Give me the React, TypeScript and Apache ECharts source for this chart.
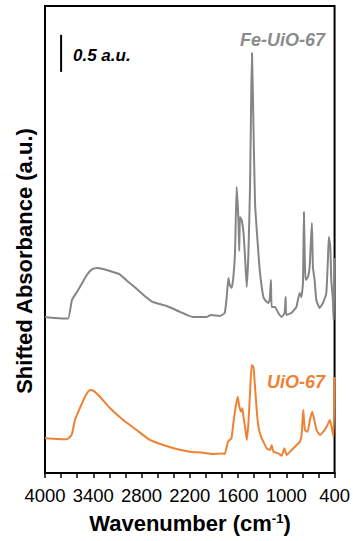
import React, { useEffect, useRef } from "react";
import * as echarts from "echarts";

// Fe-UiO-67 (shifted, gray)
const feWavenumber = [4000, 3876, 3714, 3665, 3603, 3541, 3479, 3417, 3354, 3280, 3193, 3094, 3069, 2982, 2858, 2734, 2659, 2486, 2324, 2163, 1989, 1939, 1828, 1766, 1741, 1720, 1703, 1679, 1658, 1638, 1617, 1595, 1585, 1576, 1555, 1533, 1513, 1492, 1471, 1451, 1437, 1427, 1414, 1389, 1347, 1327, 1285, 1244, 1223, 1207, 1191, 1182, 1141, 1099, 1058, 1021, 1008, 1000, 937, 875, 856, 834, 813, 793, 781, 770, 760, 731, 710, 682, 669, 648, 627, 586, 545, 503, 483, 471, 453, 441, 421, 412, 400];
const feAbsorbance = [2.108, 2.095, 2.088, 2.338, 2.446, 2.561, 2.676, 2.751, 2.77, 2.757, 2.73, 2.695, 2.682, 2.599, 2.486, 2.369, 2.311, 2.257, 2.178, 2.108, 2.108, 2.135, 2.122, 2.162, 2.378, 2.635, 2.541, 2.5, 2.649, 2.973, 3.865, 3.419, 3.0, 3.459, 3.419, 3.257, 2.919, 2.514, 2.973, 3.865, 5.04, 5.676, 5.04, 3.649, 2.973, 2.703, 2.378, 2.311, 2.297, 2.338, 2.608, 2.243, 2.243, 2.162, 2.108, 2.162, 2.378, 2.135, 2.162, 2.243, 2.338, 2.432, 2.378, 2.568, 3.527, 2.88, 2.608, 2.649, 2.784, 3.378, 2.784, 2.608, 2.338, 2.23, 2.297, 2.432, 2.878, 3.189, 3.054, 2.608, 2.338, 2.068, 2.905];

// UiO-67 (orange)
const uioWavenumber = [4000, 3731, 3669, 3628, 3566, 3503, 3441, 3400, 3317, 3193, 3028, 2862, 2697, 2531, 2365, 2200, 2035, 1911, 1803, 1766, 1724, 1682, 1658, 1629, 1604, 1588, 1563, 1546, 1533, 1513, 1492, 1471, 1451, 1430, 1409, 1389, 1368, 1347, 1315, 1285, 1244, 1203, 1182, 1161, 1099, 1058, 1024, 996, 934, 872, 831, 810, 789, 769, 735, 707, 677, 652, 624, 582, 540, 499, 458, 429, 412, 400];
const uioAbsorbance = [0.469, 0.455, 0.514, 0.716, 0.878, 1.031, 1.122, 1.112, 1.031, 0.878, 0.716, 0.581, 0.446, 0.378, 0.324, 0.288, 0.274, 0.257, 0.264, 0.257, 0.423, 0.469, 0.676, 0.896, 1.031, 0.919, 0.828, 0.874, 0.761, 0.626, 0.446, 0.676, 1.081, 1.459, 1.436, 1.166, 0.851, 0.626, 0.491, 0.423, 0.334, 0.311, 0.378, 0.288, 0.266, 0.23, 0.334, 0.243, 0.311, 0.378, 0.423, 0.514, 0.851, 0.581, 0.558, 0.716, 0.828, 0.716, 0.581, 0.514, 0.558, 0.626, 0.716, 0.581, 0.486, 1.297];

// scale bar: 0.5 a.u.
const scaleBarX = [3800, 3800];
const scaleBarY = [5.42, 5.92];

const xTickLabels = [4000, 3400, 2800, 2200, 1600, 1000, 400];

const FONT = "'Liberation Sans', Arial, sans-serif";
const GRAY = "#858585";
const ORANGE = "#EE8233";

export default function App() {
  const ref = useRef<HTMLDivElement>(null);
  useEffect(() => {
    document.body.style.margin = "0";
    const chart = echarts.init(ref.current!, null, { renderer: "svg" });
    const gridLeft = 45, gridTop = 6, gridW = 290, gridH = 467;
    chart.setOption({
      animation: false,
      backgroundColor: "#fff",
      grid: {
        left: gridLeft, top: gridTop, width: gridW, height: gridH,
        show: true, borderColor: "#000", borderWidth: 2, backgroundColor: "transparent",
      },
      xAxis: {
        type: "value", min: 400, max: 4000, interval: 200, inverse: true,
        axisLine: { show: true, onZero: false, lineStyle: { color: "#000", width: 2 } },
        axisTick: { show: true, inside: false, length: 5, lineStyle: { color: "#000", width: 1.5 } },
        axisLabel: {
          margin: 13, color: "#000", fontSize: 18.5, fontFamily: FONT,
          formatter: (v: number) => (xTickLabels.includes(v) ? String(v) : ""),
        },
        splitLine: { show: false },
      },
      yAxis: {
        type: "value", min: 0, max: 6.31,
        axisLine: { show: true, lineStyle: { color: "#000", width: 2 } },
        axisTick: { show: false }, axisLabel: { show: false }, splitLine: { show: false },
      },
      series: [
        {
          type: "line", name: "Fe-UiO-67", showSymbol: false, symbol: "none", smooth: 0.15,
          lineStyle: { color: GRAY, width: 2 },
          data: feWavenumber.map((w, i) => [w, feAbsorbance[i]]),
          z: 3,
        },
        {
          type: "line", name: "UiO-67", showSymbol: false, symbol: "none", smooth: 0.15,
          lineStyle: { color: ORANGE, width: 2 },
          data: uioWavenumber.map((w, i) => [w, uioAbsorbance[i]]),
          z: 3,
        },
        {
          type: "line", name: "scale", showSymbol: false, symbol: "none",
          lineStyle: { color: "#000", width: 2 },
          data: scaleBarX.map((w, i) => [w, scaleBarY[i]]),
          z: 3,
        },
      ],
      graphic: [
        {
          type: "text", x: 73, y: 55,
          style: { text: "0.5 a.u.", fill: "#000", font: `italic bold 17px ${FONT}`, align: "left", verticalAlign: "middle", textAlign: "left", textVerticalAlign: "middle" },
        },
        {
          type: "text", x: 325, y: 40,
          style: { text: "Fe-UiO-67", fill: "#8c8c8c", font: `italic bold 18px ${FONT}`, align: "right", verticalAlign: "middle", textAlign: "right", textVerticalAlign: "middle" },
        },
        {
          type: "text", x: 325, y: 382,
          style: { text: "UiO-67", fill: ORANGE, font: `italic bold 18px ${FONT}`, align: "right", verticalAlign: "middle", textAlign: "right", textVerticalAlign: "middle" },
        },
        {
          type: "text", x: 24, y: 261, rotation: Math.PI / 2,
          style: { text: "Shifted Absorbance (a.u.)", fill: "#000", font: `bold 22px ${FONT}`, align: "center", verticalAlign: "middle", textAlign: "center", textVerticalAlign: "middle" },
        },
        {
          type: "text", x: 190, y: 523,
          style: {
            text: "Wavenumber (cm{sup|-1})",
            fill: "#000", font: `bold 22px ${FONT}`, fontWeight: "bold", fontSize: 22, fontFamily: FONT,
            align: "center", verticalAlign: "middle", textAlign: "center", textVerticalAlign: "middle",
            rich: { sup: { fontSize: 13, fontWeight: "bold", fontFamily: FONT, fill: "#000", padding: [0, 0, 10, 0] } },
          },
        },
      ],
    });
    return () => chart.dispose();
  }, []);
  return <div ref={ref} style={{ position: "absolute", left: 0, top: 0, width: 353, height: 541 }} />;
}
